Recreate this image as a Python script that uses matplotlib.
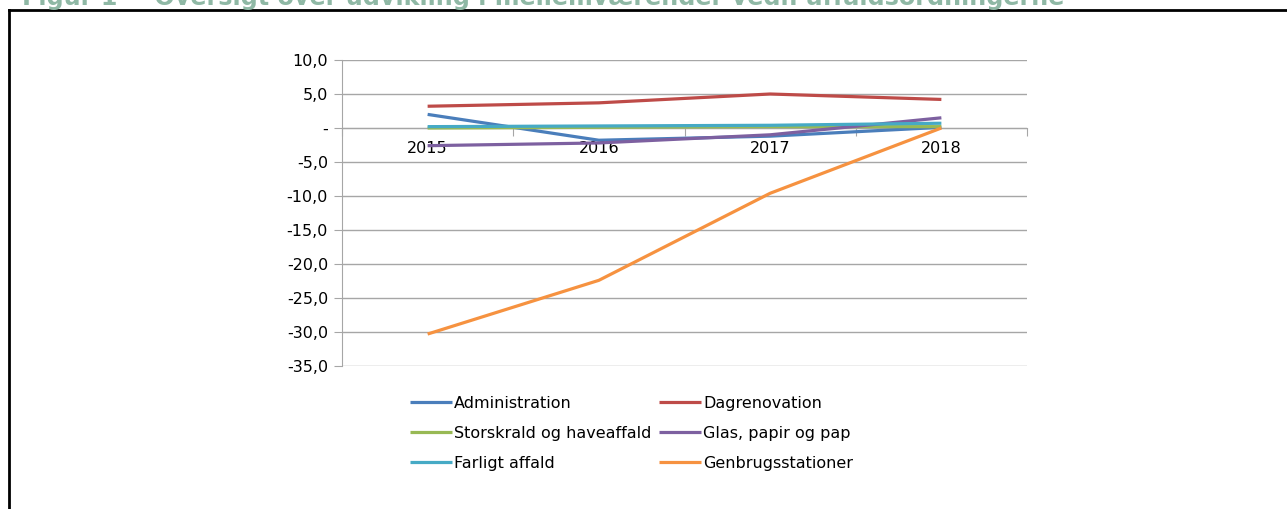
import matplotlib
matplotlib.use("Agg")
import matplotlib.pyplot as plt
from matplotlib.lines import Line2D

# Data
years = ["2015", "2016", "2017", "2018"]
administration = [2.0, -1.8, -1.2, 0.1]
dagrenovation = [3.2, 3.7, 5.0, 4.2]
storskrald = [0.0, 0.1, 0.2, 0.2]
glas = [-2.6, -2.2, -1.0, 1.5]
farligt = [0.2, 0.3, 0.4, 0.7]
genbrug = [-30.3, -22.4, -9.6, 0.0]

series_names = ["Administration", "Dagrenovation", "Storskrald og haveaffald",
                "Glas, papir og pap", "Farligt affald", "Genbrugsstationer"]
series_values = [administration, dagrenovation, storskrald, glas, farligt, genbrug]
colors = ["#4A7EBB", "#BE4B48", "#98B954", "#7D60A0", "#46AAC5", "#F69240"]

y_ticks = [10, 5, 0, -5, -10, -15, -20, -25, -30, -35]
y_labels = ["10,0", "5,0", "-", "-5,0", "-10,0", "-15,0", "-20,0", "-25,0", "-30,0", "-35,0"]

plt.rcParams['font.family'] = ['DejaVu Sans']
W, H = 1287, 509
fs = 11.5
fig = plt.figure(figsize=(W / 100, H / 100), dpi=100)

ax = fig.add_axes([342 / W, 1 - 366 / H, (1027 - 342) / W, (366 - 60) / H])

x = list(range(len(years)))
lines = []
for name, vals, col in zip(series_names, series_values, colors):
    ln, = ax.plot(x, vals, color=col, linewidth=2.3, label=name, zorder=3,
                  solid_capstyle='butt')
    lines.append(ln)

ax.set_xlim(-0.5, 3.5)
ax.set_ylim(-35, 10)

grid_col = "#A6A6A6"
ax.set_yticks(y_ticks)
ax.set_yticklabels(y_labels, fontsize=fs)
ax.yaxis.grid(True, color=grid_col, linewidth=1)
ax.set_axisbelow(True)
ax.tick_params(axis='y', length=6, color=grid_col, pad=4)

# x-akse ved nul, tick marks mellem kategorier
ax.spines['bottom'].set_position(('data', 0))
ax.spines['bottom'].set_color(grid_col)
ax.spines['left'].set_color(grid_col)
ax.spines['top'].set_visible(False)
ax.spines['right'].set_visible(False)
ax.set_xticks([-0.5, 0.5, 1.5, 2.5, 3.5])
ax.set_xticklabels([])
ax.tick_params(axis='x', which='major', length=6, color=grid_col, direction='out')
ax.set_xticks(x, minor=True)
ax.set_xticklabels(years, minor=True, fontsize=fs)
ax.tick_params(axis='x', which='minor', length=0, pad=9.5)

# legenden udfyldes rækkevis i originalen
order = [0, 2, 4, 1, 3, 5]
fig.legend(handles=[lines[i] for i in order], ncol=2, loc='upper left',
           bbox_to_anchor=(410 / W, 1 - 396 / H), frameon=False,
           fontsize=fs, handlelength=2.6, handletextpad=0.15,
           columnspacing=0.5, labelspacing=0.94, borderpad=0, borderaxespad=0)

# Titel (delvist afskåret i toppen)
fig.text(22 / W, 1 - 5 / H,
         "Figur 1 \u2013  Oversigt over udvikling i mellemværender vedr. affaldsordningerne",
         fontsize=17.2, fontweight='bold', color="#8FB8A5", va='baseline', ha='left')

# Ramme
fig.add_artist(Line2D([9 / W, 1], [1 - 10 / H, 1 - 10 / H], color='black', linewidth=2,
                      transform=fig.transFigure))
fig.add_artist(Line2D([9 / W, 9 / W], [0, 1 - 10 / H], color='black', linewidth=2,
                      transform=fig.transFigure))

fig.savefig("out.png", dpi=100)
